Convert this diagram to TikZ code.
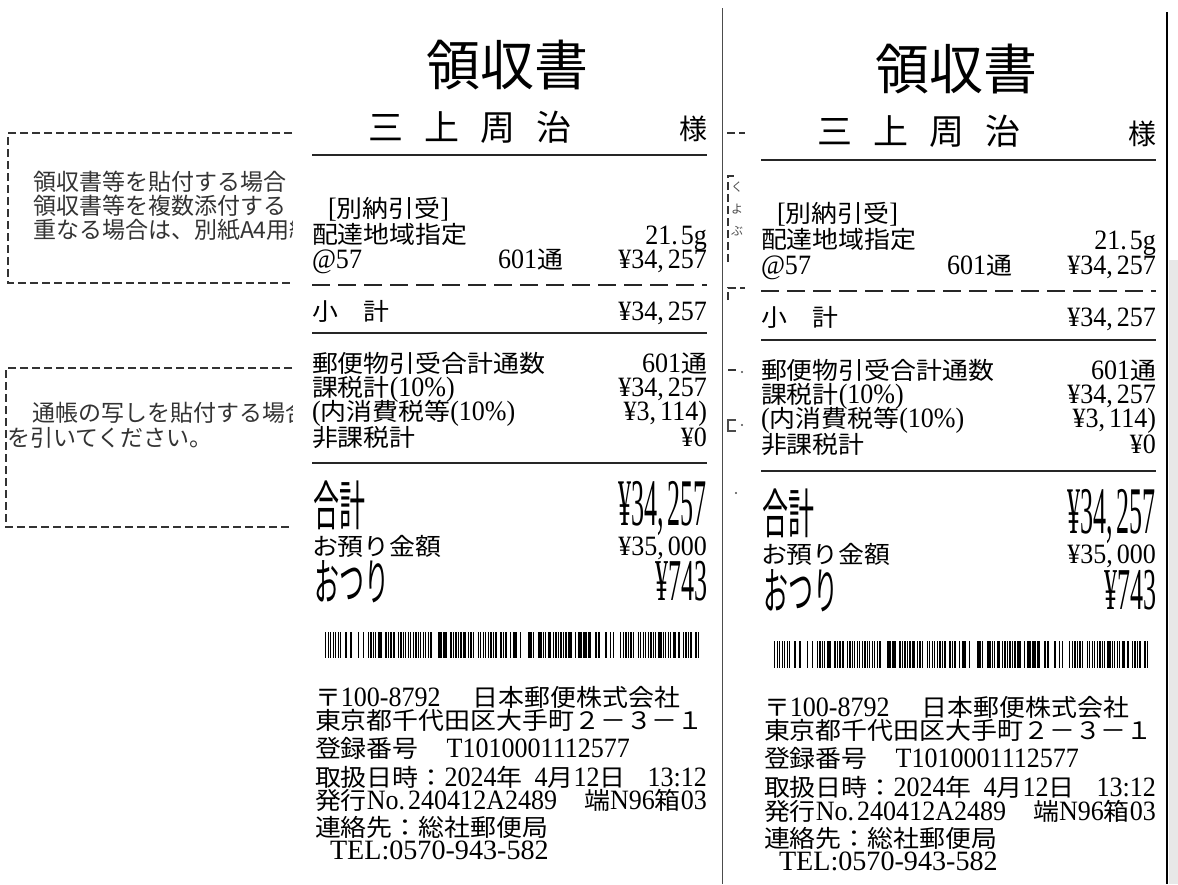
\documentclass[tikz,border=0pt]{standalone}
\usepackage{fontspec}
\usepackage{graphicx}
\setmainfont{Noto Sans CJK JP}[FakeStretch=1.08]
\newfontfamily\jpn{Noto Sans CJK JP}
\newfontfamily\nm[FakeStretch=0.93]{Liberation Serif}
\newcommand\N[1]{{\fontsize{28}{28}\selectfont\nm #1}}
\newcommand\cm{,\hspace{4pt}}
\newcommand\pd{.\hspace{3pt}}
\newcommand\bodyfont{\fontsize{24}{24}\selectfont}
\tikzset{
  tx/.style={inner sep=0pt, outer sep=0pt, font=\bodyfont},
  lt/.style={tx, anchor=base west},
  rt/.style={tx, anchor=base east},
  rule/.style={line width=1.8pt, black!85},
  dashrule/.style={line width=2pt, black!85, dash pattern=on 18pt off 8pt},
  formdash/.style={line width=1.5pt, black!80, dash pattern=on 8pt off 4pt},
  formtx/.style={inner sep=0pt, outer sep=0pt, anchor=base west, black!80, font=\jpn\fontsize{23}{23}\selectfont},
  frag/.style={inner sep=0pt, outer sep=0pt, black!70, font=\jpn\fontsize{12}{12}\selectfont}
}
\newcommand\receipt[1]{%
  \node[tx, font=\jpn\fontsize{54}{54}\selectfont] (#1title) at (507,65) {領収書};
  \node[tx, font=\jpn\fontsize{35}{35}\selectfont] (#1name) at (470,127) {三\hspace{21pt}上\hspace{21pt}周\hspace{21pt}治};
  \node[tx, font=\jpn\fontsize{28}{28}\selectfont, anchor=east] (#1sama) at (707,129) {様};
  \draw[rule] (312,155) -- (707,155);
  \node[lt] (#1bn) at (328,217) {\N{[}別納引受\N{]}};
  \node[lt] (#1hai) at (312,243) {配達地域指定};
  \node[rt] (#1wt) at (707,244) {\N{21\pd 5g}};
  \node[lt] (#1at) at (312,268) {\N{@57}};
  \node[lt] (#1cnt) at (498,268) {\N{601}通};
  \node[rt] (#1amt) at (707,268) {\N{¥34\cm 257}};
  \draw[dashrule] (312,285) -- (707,285);
  \node[lt] (#1sub) at (312,320) {小　計};
  \node[rt] (#1suba) at (707,320) {\N{¥34\cm 257}};
  \draw[rule] (312,333) -- (707,333);
  \node[lt] (#1yu) at (312,372) {郵便物引受合計通数};
  \node[rt] (#1yua) at (707,372) {\N{601}通};
  \node[lt] (#1ka) at (312,396) {課税計\N{(10\%)}};
  \node[rt] (#1kaa) at (707,396) {\N{¥34\cm 257}};
  \node[lt] (#1uchi) at (312,420) {\N{(}内消費税等\N{(10\%)}};
  \node[rt] (#1uchia) at (707,420) {\N{¥3\cm 114)}};
  \node[lt] (#1hi) at (312,446) {非課税計};
  \node[rt] (#1hia) at (707,446) {\N{¥0}};
  \draw[rule] (312,463) -- (707,463);
  \node[lt, font=\jpn\fontsize{26}{26}\selectfont] (#1gk) at (313,525) {\scalebox{1}[2.05]{合計}};
  \node[rt] (#1gka) at (707,525) {\scalebox{1}[2.38]{\N{¥34\cm 257}}};
  \node[lt] (#1azu) at (312,555) {お預り金額};
  \node[rt] (#1azua) at (707,555) {\N{¥35\cm 000}};
  \node[lt, font=\jpn\fontsize{25}{25}\selectfont] (#1otsu) at (314,600) {\scalebox{1}[2.0]{おつり}};
  \node[rt] (#1otsua) at (708,600) {\scalebox{1}[2.12]{\N{¥743}}};
  \pgfmathsetseed{4242}%
  \foreach \i in {0,...,150} {%
    \pgfmathrandominteger{\r}{0}{9}%
    \pgfmathsetmacro\xx{325+2.5*\i}%
    \ifnum\r<8 \fill[black] (\xx,632) rectangle ({\xx+1.1+0.15*\r},658); \fi
  }
  \node[lt] (#1f1) at (315,706) {〒\N{100-8792}\hspace{32pt}日本郵便株式会社};
  \node[lt] (#1f2) at (315,729) {東京都千代田区大手町２－３－１};
  \node[lt] (#1f3) at (315,757) {登録番号\hspace{28pt}\N{T1010001112577}};
  \node[lt] (#1f4) at (315,786) {取扱日時：\N{2024}年\hspace{12pt}\N{4}月\N{12}日\hspace{22pt}\N{13:12}};
  \node[lt] (#1f5) at (315,809) {発行\N{No\pd 240412A2489}\hspace{27pt}端\N{N96}箱\N{03}};
  \node[lt] (#1f6) at (315,836) {連絡先：総社郵便局};
  \node[lt] (#1f7) at (330,859) {\scalebox{1.08}[1]{\N{TEL:0570-943-582}}};
}
\begin{document}
\begin{tikzpicture}[x=1pt, y=-1pt]
  \useasboundingbox (0,0) rectangle (1178,884);
  \fill[white] (0,0) rectangle (1178,884);
  % background form, partly hidden behind the receipt
  \begin{scope}
    \clip (0,0) rectangle (292,884);
    \draw[formdash] (292,133) -- (8,133) -- (8,283) -- (292,283);
    \node[formtx] (b1a) at (33,190) {領収書等を貼付する場合};
    \node[formtx] (b1b) at (33,214) {領収書等を複数添付する};
    \node[formtx] (b1c) at (33,238) {重なる場合は、別紙A4用紙};
    \draw[formdash] (292,368) -- (6,368) -- (6,527) -- (292,527);
    \node[formtx] (b2a) at (32,421) {通帳の写しを貼付する場合};
    \node[formtx] (b2b) at (7,446) {を引いてください。};
  \end{scope}
  % fragments visible between the two receipts
  \draw[formdash] (727,133) -- (745,133);
  \draw[formdash] (728,262) -- (728,176) -- (736,176);
  \node[frag] (fr1) at (737,187) {く};
  \node[frag] (fr2) at (737,209) {よ};
  \node[frag] (fr3) at (737,231) {ぶ};
  \draw[formdash] (728,300) -- (728,288) -- (745,288);
  \draw[formdash] (728,370) -- (737,370);
  \fill[black!70] (742,372) circle (1.1);
  \draw[line width=1.2pt, black!70] (736,420) -- (728,420) -- (728,431) -- (736,431);
  \fill[black!70] (742,425) circle (1.1);
  \fill[black!70] (736,493) circle (1.1);
  % dividers
  \draw[line width=1pt, black!70] (722,8) -- (722,884);
  \fill[gray!18] (1169,260) rectangle (1178,884);
  \draw[line width=2.5pt, black] (1167,12) -- (1167,884);
  % the two receipts
  \receipt{L}
  \begin{scope}[shift={(449,3.5)}, yscale=1.0094]
    \receipt{R}
  \end{scope}
\end{tikzpicture}
\end{document}
